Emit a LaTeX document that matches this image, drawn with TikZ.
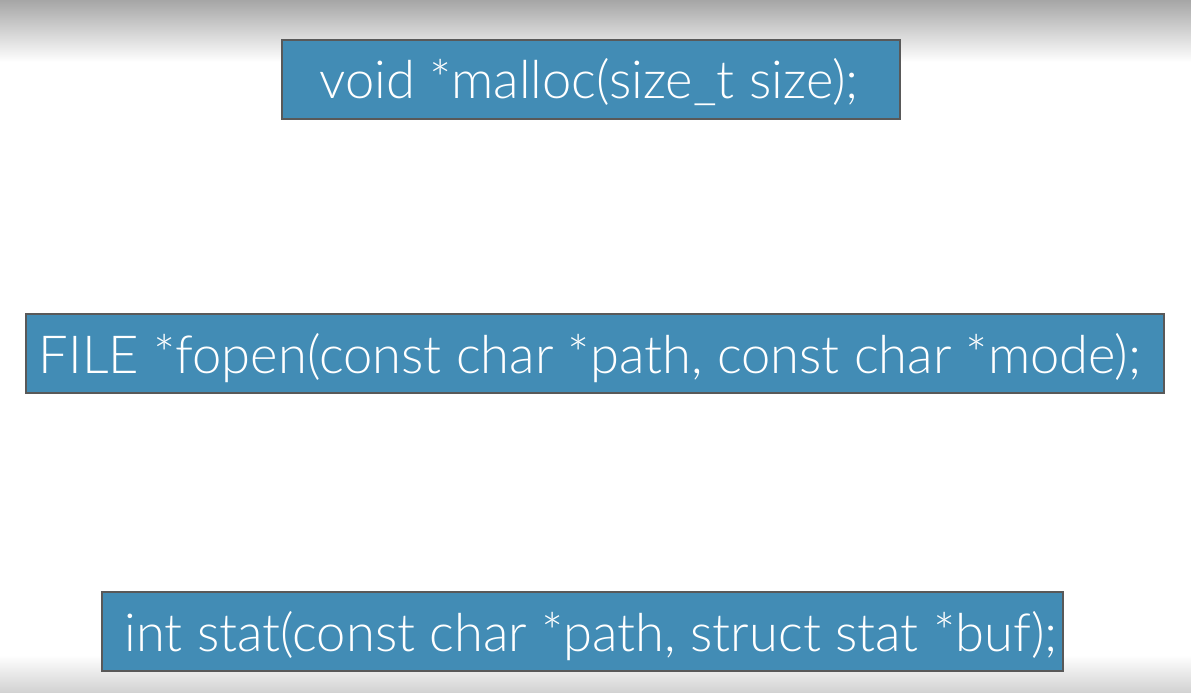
\documentclass[tikz,border=0pt]{standalone}
\usepackage{fontspec}
\setmainfont{Lato Light}
\begin{document}
\begin{tikzpicture}[x=1pt,y=-1pt,
  box/.style={draw=black!65,line width=1.2pt,fill=boxblue,minimum height=79pt,inner sep=0pt,anchor=center},
  code/.style={text=white,font=\fontsize{52.5}{56}\selectfont,inner sep=0pt,anchor=base}]
\definecolor{boxblue}{HTML}{428CB5}
\useasboundingbox (0,0) rectangle (1191,693);
\fill[white] (0,0) rectangle (1191,693);
\shade[top color=black!35,bottom color=white] (0,0) rectangle (1191,62);
\shade[top color=white,bottom color=black!18] (0,655) rectangle (1191,693);
\node[box,minimum width=618pt] (b1) at (591,79.5) {};
\node[box,minimum width=1138pt] (b2) at (595,353.5) {};
\node[box,minimum width=961pt] (b3) at (582.5,631.5) {};
\node[code] (t1) at (589,99) {void *malloc(size\_t size);};
\node[code] (t2) at (590,373) {FILE *fopen(const char *path, const char *mode);};
\node[code] (t3) at (591,651) {int stat(const char *path, struct stat *buf);};
\end{tikzpicture}
\end{document}
